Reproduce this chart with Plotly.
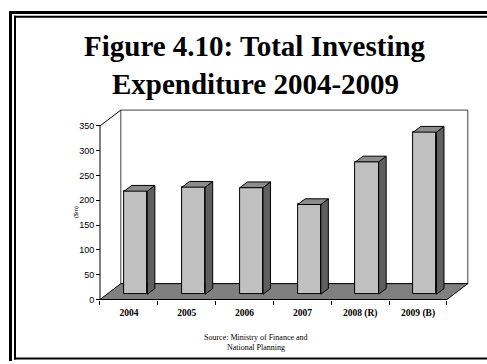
import numpy as np
import plotly.graph_objects as go

# ---- data -------------------------------------------------------------
years = ["2004", "2005", "2006", "2007", "2008 (R)", "2009 (B)"]
spend = [208, 216, 215, 181, 267, 327]          # $m
y_ticks = [0, 50, 100, 150, 200, 250, 300, 350]

# ---- page / geometry ---------------------------------------------------
W, H = 487, 364
YMAX = 350                 # top of the value axis
DX, DY = 0.36, 32          # floor depth (x units, value units)
F0, F1 = 0.33, 0.69        # depth span of each column, as fraction of floor depth
BAR_W = 0.40

PX_PER_X = 57.83           # horizontal scale, px per category
PX_PER_Y = 0.5             # vertical scale, px per $m
AX_LEFT, AX_BOTTOM = 100, 302   # pixel position of the axis origin

x_rng = [-0.55, 5.9]
y_rng = [-4, 384]
dom_x = [(AX_LEFT + (x_rng[0] + 0.5) * PX_PER_X) / W,
         (AX_LEFT + (x_rng[1] + 0.5) * PX_PER_X) / W]
dom_y = [1 - (AX_BOTTOM - y_rng[0] * PX_PER_Y) / H,
         1 - (AX_BOTTOM - y_rng[1] * PX_PER_Y) / H]


def px(x):
    return x / W


def py(y):
    return 1 - y / H


idx = np.arange(len(years))
vals = np.array(spend, dtype=float)

base = F0 * DY
bdx, bdy = (F1 - F0) * DX, (F1 - F0) * DY
xc = idx + F0 * DX
x_l, x_r = xc - BAR_W / 2, xc + BAR_W / 2
tops = base + vals

# side and top faces of the columns
side_x, side_y, top_x, top_y = [], [], [], []
for xl, xr, t in zip(x_l, x_r, tops):
    side_x += [xr, xr + bdx, xr + bdx, xr, xr, None]
    side_y += [base, base + bdy, t + bdy, t, base, None]
    top_x += [xl, xl + bdx, xr + bdx, xr, xl, None]
    top_y += [t, t + bdy, t + bdy, t, t, None]

fig = go.Figure()
fig.add_trace(go.Bar(
    x=xc, y=vals, base=base, width=BAR_W,
    marker=dict(color="#c0c0c0", line=dict(color="black", width=1)),
    hoverinfo="skip", showlegend=False,
))
fig.add_trace(go.Scatter(
    x=side_x, y=side_y, mode="lines", fill="toself", fillcolor="#5f5f5f",
    line=dict(color="black", width=1), hoverinfo="skip", showlegend=False,
))
fig.add_trace(go.Scatter(
    x=top_x, y=top_y, mode="lines", fill="toself", fillcolor="#8c8c8c",
    line=dict(color="black", width=1), hoverinfo="skip", showlegend=False,
))


def page_line(x0, y0, x1, y1, w):
    return dict(type="line", xref="paper", yref="paper", x0=px(x0), y0=py(y0),
                x1=px(x1), y1=py(y1), line=dict(color="black", width=w))


shapes = [
    # back wall
    dict(type="rect", xref="x", yref="y", x0=-0.5 + DX, y0=DY, x1=5.5 + DX, y1=YMAX + DY,
         line=dict(color="#404040", width=1), fillcolor="white", layer="below"),
    # floor
    dict(type="path", xref="x", yref="y",
         path=f"M -0.5,0 L 5.5,0 L {5.5 + DX},{DY} L {-0.5 + DX},{DY} Z",
         line=dict(color="black", width=1), fillcolor="#808080", layer="below"),
    # top edge of the side wall
    dict(type="line", xref="x", yref="y", x0=-0.5, y0=YMAX, x1=-0.5 + DX, y1=YMAX + DY,
         line=dict(color="black", width=1)),
    # value axis line
    dict(type="line", xref="x", yref="y", x0=-0.5, y0=0, x1=-0.5, y1=YMAX,
         line=dict(color="black", width=1)),
    # double page frame (open to the right and, for the outer line, the bottom)
    page_line(10.5, 11, 10.5, H, 3),
    page_line(9, 12.5, W, 12.5, 3),
    page_line(15, 16, 15, 362.5, 2),
    page_line(14, 17, W, 17, 2),
    page_line(14, 361.5, W, 361.5, 2),
]

serif = "Liberation Serif, Times New Roman, serif"
annotations = [
    dict(text="<b>Figure 4.10: Total Investing</b>", x=px(255), y=py(46), xref="paper", yref="paper",
         showarrow=False, xanchor="center", yanchor="middle", font=dict(family=serif, size=29, color="black")),
    dict(text="<b>Expenditure 2004-2009</b>", x=px(255), y=py(85), xref="paper", yref="paper",
         showarrow=False, xanchor="center", yanchor="middle", font=dict(family=serif, size=29, color="black")),
    dict(text="($m)", x=px(76), y=py(214), xref="paper", yref="paper", textangle=-90,
         showarrow=False, xanchor="center", yanchor="middle",
         font=dict(family="Liberation Sans, Arial", size=6, color="black")),
    dict(text="Source: Ministry of Finance and", x=px(256), y=py(340.5), xref="paper", yref="paper",
         showarrow=False, xanchor="center", yanchor="middle", font=dict(family=serif, size=8, color="black")),
    dict(text="National Planning", x=px(256), y=py(350), xref="paper", yref="paper",
         showarrow=False, xanchor="center", yanchor="middle", font=dict(family=serif, size=8, color="black")),
]

fig.update_layout(
    width=W, height=H,
    margin=dict(l=0, r=0, t=0, b=0),
    paper_bgcolor="white", plot_bgcolor="rgba(0,0,0,0)",
    shapes=shapes, annotations=annotations,
    xaxis=dict(
        domain=dom_x, range=x_rng, anchor="free", position=py(AX_BOTTOM),
        tickmode="array", tickvals=idx, ticktext=[f"<b>{y}</b>" for y in years],
        ticks="", ticklabelstandoff=6, showgrid=False, zeroline=False, showline=False,
        tickfont=dict(family=serif, size=9.5, color="black"),
        minor=dict(tickmode="array", tickvals=list(np.arange(-0.5, 6, 1.0)),
                   ticks="outside", ticklen=4, tickcolor="black", tickwidth=1, showgrid=False),
        fixedrange=True,
    ),
    yaxis=dict(
        domain=dom_y, range=y_rng, anchor="free", position=px(AX_LEFT),
        tickmode="array", tickvals=y_ticks, ticks="outside", ticklen=4,
        tickcolor="black", tickwidth=1, showgrid=False, zeroline=False, showline=False,
        tickfont=dict(family="Liberation Sans, Arial", size=9, color="black"),
        fixedrange=True,
    ),
    bargap=0,
)

fig.write_html("out.html")
